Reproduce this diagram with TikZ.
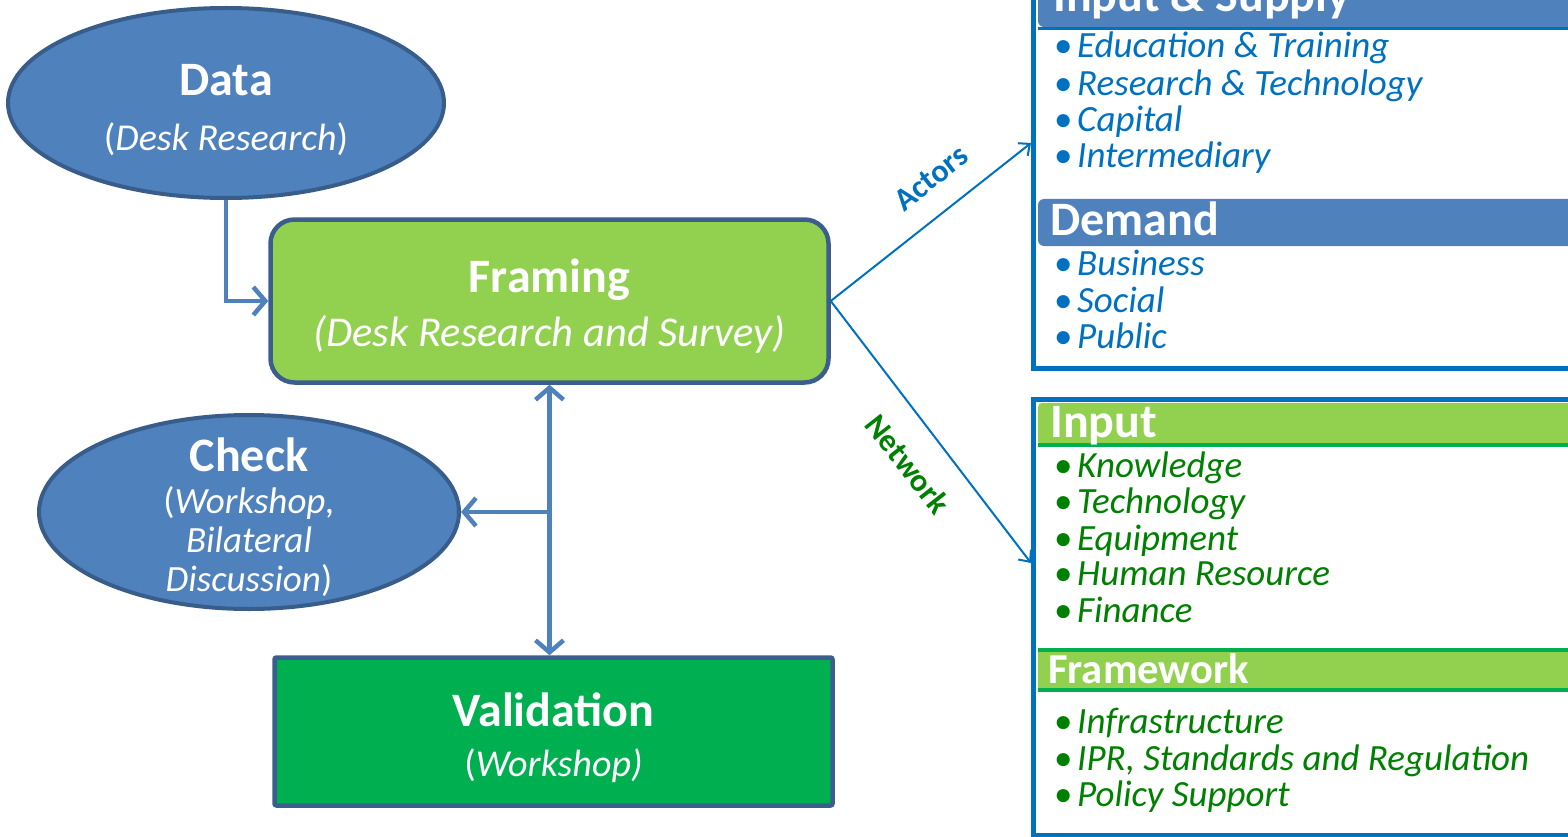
\documentclass[tikz,border=0pt]{standalone}
\usepackage{fontspec}
\setmainfont{Carlito}
\usetikzlibrary{shapes.geometric,arrows.meta}
\definecolor{ellfill}{HTML}{4F81BD}
\definecolor{ellline}{HTML}{385D8A}
\definecolor{frfill}{HTML}{92D050}
\definecolor{boxline}{HTML}{3B5E8C}
\definecolor{valfill}{HTML}{00B050}
\definecolor{pblue}{HTML}{0070C0}
\definecolor{tgreen}{HTML}{008000}
\definecolor{dgreen}{HTML}{00B050}
\newcommand{\ttl}[1]{{\fontsize{48}{56}\selectfont\bfseries #1}}
\newcommand{\bul}{\makebox[23pt][l]{•}}
\tikzset{mybarb/.tip={Straight Barb[length=12pt,width=28pt]}}
\begin{document}
\begin{tikzpicture}[x=1pt,y=-1pt,
  oval/.style={ellipse, fill=ellfill, draw=ellline, line width=4pt, inner sep=0pt},
  stepbox/.style={rectangle, draw=boxline, line width=4.5pt, inner sep=0pt},
  intext/.style={text=white, align=center, inner sep=0pt},
  conn/.style={draw=ellfill, line width=4.5pt},
  thinarrow/.style={draw=pblue, line width=2pt, -{Straight Barb[length=9pt,width=16pt]}},
  itemtxt/.style={anchor=base west, inner sep=0pt, font=\fontsize{37}{40}\selectfont},
  hdrtxt/.style={anchor=base west, inner sep=0pt, text=white, font=\fontsize{48}{56}\selectfont\bfseries},
]
\useasboundingbox (0,0) rectangle (1568,837);

% left flow: shapes
\node[oval, minimum width=436pt, minimum height=190pt] (Data) at (226,103) {};
\node[stepbox, fill=frfill, rounded corners=24pt, minimum width=558pt, minimum height=163pt] (Framing) at (549.5,301) {};
\node[oval, minimum width=420pt, minimum height=194pt] (Check) at (249,512) {};
\node[stepbox, fill=valfill, rounded corners=2pt, minimum width=558pt, minimum height=148pt] (Validation) at (553.5,731.5) {};

% left flow: texts
\node[intext, font=\fontsize{38}{55}\selectfont] (DataTxt) at (226,110)
  {\ttl{Data}\\(\textit{Desk Research})};
\node[intext, font=\fontsize{42.5}{54}\selectfont] (FramingTxt) at (549.5,306)
  {\ttl{Framing}\\\textit{(Desk Research and Survey)}};
\node[intext, font=\fontsize{37}{39}\selectfont] (CheckTxt) at (249,517)
  {\ttl{Check}\\[3pt](\textit{Workshop,}\\\textit{Bilateral}\\\textit{Discussion})};
\node[intext, font=\fontsize{38}{50}\selectfont] (ValidationTxt) at (553.5,737.5)
  {\ttl{Validation}\\(\textit{Workshop)}};

\draw[conn, -{mybarb}] (Data.south) |- (Framing.west);
\draw[conn, {mybarb}-{mybarb}] (Framing.south) -- (Framing.south |- Validation.north);
\draw[conn, -{mybarb}] (Framing.south |- Check.east) -- (Check.east);

% right panels
\begin{scope}
\clip (0,0) rectangle (1568,837);
\fill[ellfill, rounded corners=6pt] (1038,-30) rectangle (1600,27);
\draw[pblue, line width=3pt] (1038,28.5) -- (1600,28.5);
\fill[ellfill, rounded corners=6pt] (1038,199) rectangle (1600,246);
\draw[pblue, line width=5pt] (1600,-30) -- (1033,-30) -- (1033,368) -- (1600,368);

\fill[frfill, rounded corners=4pt] (1038,403) rectangle (1600,445);
\draw[dgreen, line width=4pt] (1038,445) -- (1600,445);
\fill[frfill] (1038,650) rectangle (1600,690);
\draw[dgreen, line width=4pt] (1038,650) -- (1600,650);
\draw[dgreen, line width=4pt] (1038,690) -- (1600,690);
\draw[pblue, line width=5pt] (1600,399) -- (1033,399) -- (1033,835) -- (1600,835);
\end{scope}

\node[hdrtxt] (hIS) at (1053,12) {Input \& Supply};
\node[hdrtxt] (hDemand) at (1050,235) {Demand};
\node[hdrtxt] (hInput) at (1050,437) {Input};
\node[hdrtxt, font=\fontsize{42.6}{50}\selectfont\bfseries] (hFramework) at (1048,683) {Framework};

\foreach \t/\yy in {{Education \& Training}/58, {Research \& Technology}/96, Capital/132, Intermediary/168, Business/275, Social/312, Public/348}
  \node[itemtxt, text=pblue] (b\yy) at (1054,\yy) {\bul\textit{\t}};
\foreach \t/\yy in {Knowledge/477, Technology/513, Equipment/550, {Human Resource}/585, Finance/622, Infrastructure/733, {IPR, Standards and Regulation}/770, {Policy Support}/806}
  \node[itemtxt, text=tgreen] (g\yy) at (1054,\yy) {\bul\textit{\t}};

% connectors to panels
\coordinate (aEnd) at (1031,143);
\coordinate (nEnd) at (1031,563);
\draw[thinarrow] (Framing.east) -- (aEnd);
\draw[thinarrow] (Framing.east) -- (nEnd);
\node[rotate=38, inner sep=0pt, text=pblue, font=\fontsize{32}{38}\selectfont\bfseries] (actorsLbl) at (931,178) {Actors};
\node[rotate=-52, inner sep=0pt, text=tgreen, font=\fontsize{32}{38}\selectfont\bfseries] (networkLbl) at (908,464) {Network};
\end{tikzpicture}
\end{document}
